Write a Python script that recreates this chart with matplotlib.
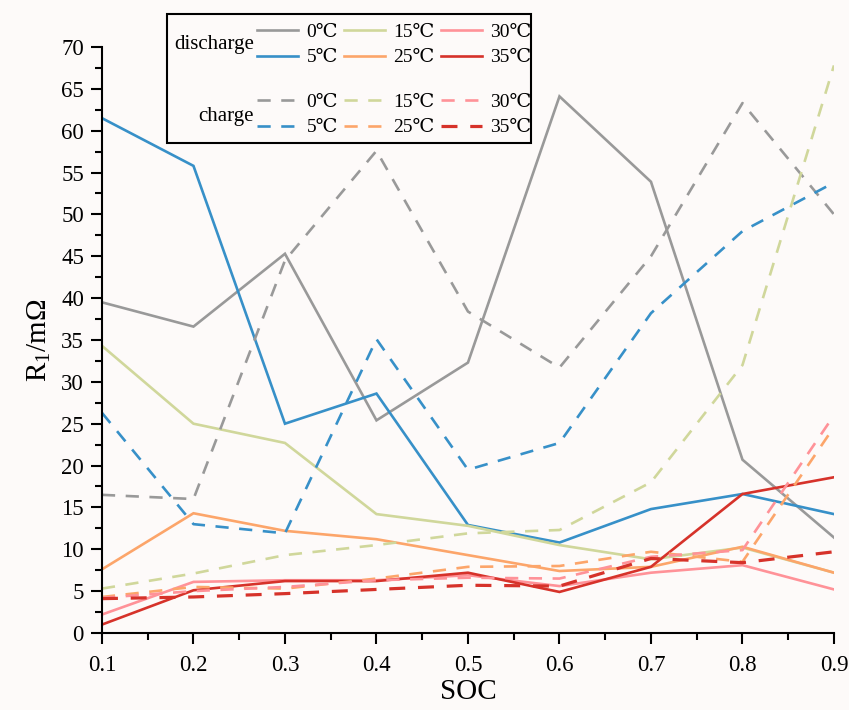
import numpy as np
import matplotlib
matplotlib.use("Agg")
import matplotlib.pyplot as plt
from matplotlib.lines import Line2D
from matplotlib.patches import Rectangle
from matplotlib.ticker import MultipleLocator

plt.rcParams['font.family'] = ['Liberation Serif', 'DejaVu Serif', 'Noto Sans CJK SC']
plt.rcParams['mathtext.fontset'] = 'custom'
plt.rcParams['mathtext.rm'] = 'Liberation Serif'

# SOC points
soc = [0.1, 0.2, 0.3, 0.4, 0.5, 0.6, 0.7, 0.8, 0.9]
temps = ['0℃', '5℃', '15℃', '25℃', '30℃', '35℃']

# R1 (mOhm), discharge
dis_0 = [39.5, 36.6, 45.3, 25.4, 32.3, 64.1, 53.9, 20.7, 11.4]
dis_5 = [61.5, 55.8, 25.0, 28.6, 12.9, 10.8, 14.8, 16.6, 14.2]
dis_15 = [34.3, 25.0, 22.7, 14.2, 12.8, 10.5, 8.8, 10.2, 7.2]
dis_25 = [7.6, 14.3, 12.2, 11.2, 9.3, 7.4, 7.9, 10.3, 7.2]
dis_30 = [2.2, 6.1, 6.3, 6.3, 6.9, 5.6, 7.2, 8.1, 5.2]
dis_35 = [1.0, 5.1, 6.2, 6.2, 7.2, 4.9, 7.9, 16.6, 18.6]

# R1 (mOhm), charge
chg_0 = [16.5, 16.0, 44.5, 57.6, 38.4, 31.7, 45.0, 63.3, 50.0]
chg_5 = [26.3, 13.0, 11.9, 35.1, 19.5, 22.7, 38.2, 48.0, 53.8]
chg_15 = [5.3, 7.1, 9.3, 10.5, 11.9, 12.3, 18.0, 32.0, 67.8]
chg_25 = [4.3, 5.5, 5.3, 6.5, 7.9, 8.0, 9.7, 8.5, 24.6]
chg_30 = [4.2, 5.0, 5.5, 6.3, 6.6, 6.5, 9.1, 9.9, 26.0]
chg_35 = [4.1, 4.3, 4.7, 5.2, 5.7, 5.6, 8.9, 8.4, 9.7]

colors = ['#999999', '#3790c8', '#d0d79b', '#fca56a', '#ff9298', '#d6322a']
bg = '#fdfaf9'

fig = plt.figure(figsize=(8.49, 7.10), dpi=100, facecolor=bg)
ax = fig.add_axes([0.1201, 0.1085, 0.8622, 0.8253], facecolor=bg)

dis = [dis_0, dis_5, dis_15, dis_25, dis_30, dis_35]
chg = [chg_0, chg_5, chg_15, chg_25, chg_30, chg_35]

for ys, c in zip(dis, colors):
    ax.plot(soc, ys, color=c, lw=1.9, solid_joinstyle='miter')
for i, (ys, c) in enumerate(zip(chg, colors)):
    lw = 2.3 if i == 5 else 1.9
    ax.plot(soc, ys, color=c, lw=lw, dashes=(5, 4))

ax.set_xlim(0.1, 0.9)
ax.set_ylim(0, 70)
ax.xaxis.set_major_locator(MultipleLocator(0.1))
ax.xaxis.set_minor_locator(MultipleLocator(0.05))
ax.yaxis.set_major_locator(MultipleLocator(5))
ax.yaxis.set_minor_locator(MultipleLocator(2.5))
ax.set_xticklabels([f'{v:.1f}' for v in ax.get_xticks()])
for s in ['top', 'right']:
    ax.spines[s].set_visible(False)
for s in ['left', 'bottom']:
    ax.spines[s].set_linewidth(1.5)
ax.tick_params(which='major', direction='out', length=8, width=1.5, labelsize=16.5, pad=5)
ax.tick_params(axis='x', which='major', pad=8)
ax.tick_params(which='minor', direction='out', length=5, width=1.5)
ax.set_xlabel('SOC', fontsize=21, labelpad=2)
ax.set_ylabel(r'R$_1$/m$\Omega$', fontsize=21, labelpad=6)

# legend block
leg_kw = dict(ncol=3, frameon=False, fontsize=14, handlelength=2.1, handletextpad=0.45,
              columnspacing=0.3, labelspacing=0.42, borderpad=0, borderaxespad=0,
              loc='upper left', bbox_transform=fig.transFigure)
h1 = [Line2D([], [], color=c, lw=1.9) for c in colors]
h2 = [Line2D([], [], color=c, lw=2.3 if i == 5 else 1.9, dashes=(5, 4)) for i, c in enumerate(colors)]
leg1 = fig.legend(h1, temps, bbox_to_anchor=(257 / 849, 1 - 23 / 710), **leg_kw)
leg2 = fig.legend(h2, temps, bbox_to_anchor=(257 / 849, 1 - 93 / 710), **leg_kw)
fig.text(254 / 849, 1 - 44 / 710, 'discharge', ha='right', va='center', fontsize=15)
fig.text(254 / 849, 1 - 116 / 710, 'charge', ha='right', va='center', fontsize=15)
fig.patches.append(Rectangle((167 / 849, 1 - 143 / 710), 364 / 849, 129 / 710,
                             transform=fig.transFigure, fill=False, ec='black', lw=1.5))

fig.savefig('out.png', dpi=100, facecolor=bg)
